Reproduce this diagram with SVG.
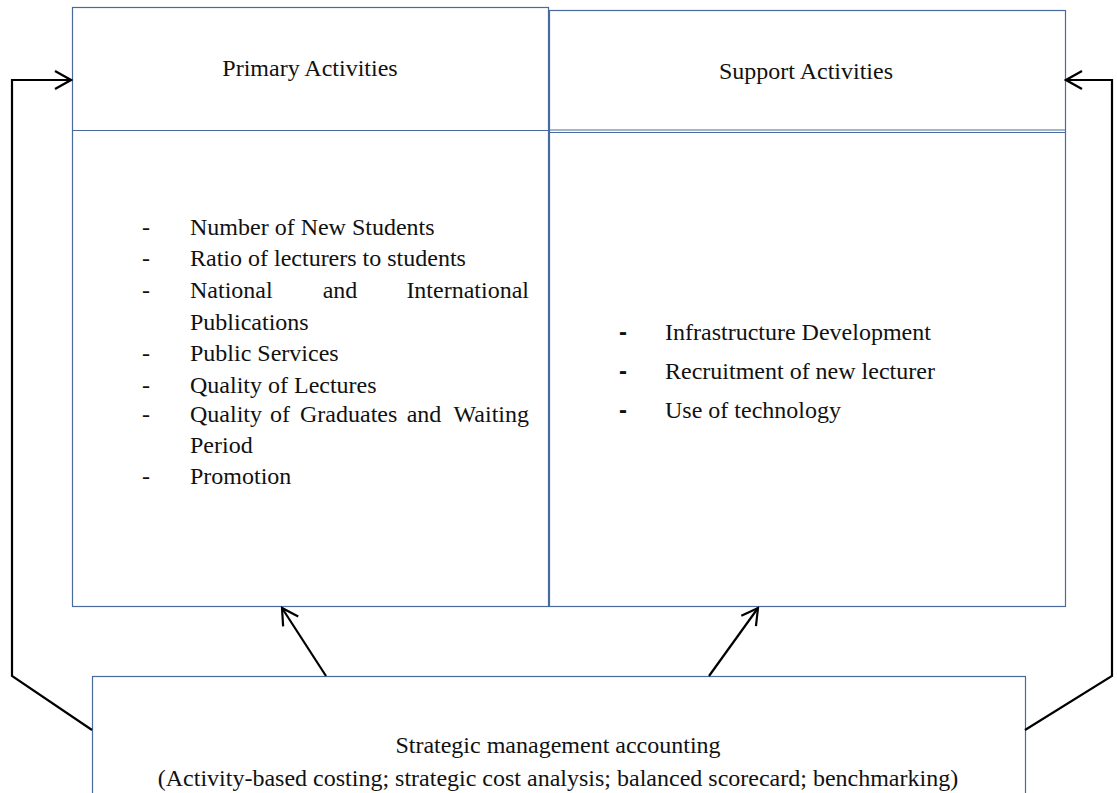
<svg xmlns="http://www.w3.org/2000/svg" width="1117" height="793" viewBox="0 0 1117 793">
  <style>
    .box { fill: #ffffff; stroke: #4a6a9c; stroke-width: 1.2; }
    .t { font-family: "Liberation Serif", "Times New Roman", serif; font-size: 24px; fill: #111; }
    .dash { font-family: "Liberation Sans", Arial, sans-serif; font-size: 24px; fill: #111; }
    .conn { fill: none; stroke: #000; stroke-width: 2.2; }
  </style>
  <defs>
    <marker id="open" viewBox="0 0 20 20" refX="18" refY="10" markerWidth="20" markerHeight="20" markerUnits="userSpaceOnUse" orient="auto">
      <path d="M2,1 L18,10 L2,19" fill="none" stroke="#000" stroke-width="2.2"/>
    </marker>
  </defs>
  <rect width="1117" height="793" fill="#ffffff"/>

  <!-- Primary activities -->
  <g id="primary">
    <rect class="box" x="72.5" y="7.5" width="476" height="599"/>
    <line class="box" x1="72.5" y1="130.5" x2="548.5" y2="130.5"/>
    <text class="t" x="310" y="76" text-anchor="middle">Primary Activities</text>
    <g class="t">
      <text x="190" y="235">Number of New Students</text>
      <text x="190" y="266">Ratio of lecturers to students</text>
      <text x="190" y="298">National</text>
      <text x="340" y="298" text-anchor="middle">and</text>
      <text x="529" y="298" text-anchor="end">International</text>
      <text x="190" y="330">Publications</text>
      <text x="190" y="361">Public Services</text>
      <text x="190" y="393">Quality of Lectures</text>
      <text x="190" y="422">Quality</text>
      <text x="270" y="422">of</text>
      <text x="300" y="422">Graduates</text>
      <text x="424" y="422" text-anchor="middle">and</text>
      <text x="529" y="422" text-anchor="end">Waiting</text>
      <text x="190" y="453">Period</text>
      <text x="190" y="484">Promotion</text>
    </g>
    <g class="t">
      <text x="142" y="235">-</text>
      <text x="142" y="266">-</text>
      <text x="142" y="298">-</text>
      <text x="142" y="361">-</text>
      <text x="142" y="393">-</text>
      <text x="142" y="422">-</text>
      <text x="142" y="484">-</text>
    </g>
  </g>

  <!-- Support activities -->
  <g id="support">
    <rect class="box" x="549.5" y="10.5" width="516" height="596"/>
    <line class="box" x1="549.5" y1="130" x2="1065.5" y2="130"/>
    <line class="box" x1="549.5" y1="132.5" x2="1065.5" y2="132.5"/>
    <text class="t" x="806" y="79" text-anchor="middle">Support Activities</text>
    <g class="t">
      <text x="665" y="340">Infrastructure Development</text>
      <text x="665" y="379">Recruitment of new lecturer</text>
      <text x="665" y="418">Use of technology</text>
    </g>
    <g class="dash" font-weight="bold">
      <text x="619" y="340">-</text>
      <text x="619" y="379">-</text>
      <text x="619" y="418">-</text>
    </g>
  </g>

  <!-- Strategic management accounting -->
  <g id="sma">
    <rect class="box" x="92.5" y="676.5" width="933" height="130"/>
    <text class="t" x="558" y="753" text-anchor="middle">Strategic management accounting</text>
    <text class="t" x="558" y="786" text-anchor="middle">(Activity-based costing; strategic cost analysis; balanced scorecard; benchmarking)</text>
  </g>

  <!-- Connectors -->
  <g id="connectors">
    <polyline class="conn" points="92,730 12,676 12,80 71,80" marker-end="url(#open)"/>
    <polyline class="conn" points="1025,730 1112,676 1112,80 1066,80" marker-end="url(#open)"/>
    <line class="conn" x1="326" y1="676" x2="282" y2="608" marker-end="url(#open)"/>
    <line class="conn" x1="709" y1="676" x2="758" y2="608" marker-end="url(#open)"/>
  </g>
</svg>
